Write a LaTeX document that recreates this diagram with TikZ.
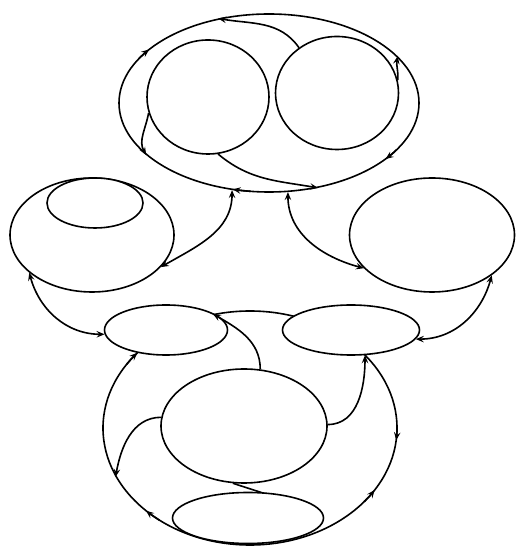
\documentclass[tikz,border=0pt]{standalone}
\usetikzlibrary{arrows.meta,shapes.geometric,calc}
\begin{document}
\begin{tikzpicture}[x=1pt,y=1pt,line width=1.6pt,
  oval/.style={draw,ellipse,inner sep=0pt,fill=white},
  tip/.style={-{Stealth[length=8pt,width=6.5pt,inset=3pt]}},
  twotip/.style={{Stealth[length=8pt,width=6.5pt,inset=3pt]}-{Stealth[length=8pt,width=6.5pt,inset=3pt]}}]
\useasboundingbox (0,0) rectangle (520,548);
% top group
\node[oval,minimum width=300pt,minimum height=178pt] (T) at (269,445) {};
\node[oval,minimum width=122pt,minimum height=114pt] (L1) at (208,451) {};
\node[oval,minimum width=123pt,minimum height=113pt] (R1) at (337,455) {};
\draw[tip] (R1.130) to[out=125,in=-10] (T.121);
\draw[tip] (R1.12) to[out=85,in=-100] (T.20.6);
\draw[tip] (L1.195) to[out=-100,in=120] (T.203.4);
\draw[tip] (L1.-80) to[out=-40,in=170] (T.-60.7);
\draw[tip] ($(T.center)+(150:150 and 89)$) arc[start angle=150,end angle=143,x radius=150,y radius=89];
\draw[tip] ($(T.center)+(263:150 and 89)$) arc[start angle=263,end angle=256,x radius=150,y radius=89];
\draw[tip] ($(T.center)+(328:150 and 89)$) arc[start angle=328,end angle=321,x radius=150,y radius=89];
% side groups
\node[oval,minimum width=164pt,minimum height=114pt] (LE) at (92,313) {};
\node[oval,minimum width=96pt,minimum height=50pt] (LS) at (95,345) {};
\node[oval,minimum width=165pt,minimum height=114pt] (RE) at (432,313) {};
% bottom group
\node[oval,fill=none,minimum width=294pt,minimum height=234pt] (E) at (250,120) {};
\node[oval,minimum width=123pt,minimum height=50pt] (ML) at (166,218) {};
\node[oval,minimum width=137pt,minimum height=50pt] (MR) at (351,218) {};
\node[oval,minimum width=166pt,minimum height=114pt] (C) at (244,122) {};
\coordinate (Bc) at (300,43);
\draw (C.259) -- (Bc);
\node[oval,minimum width=151pt,minimum height=51pt] (B) at (248,30) {};
\draw[tip] (C.74) to[out=90,in=-30] (E.108);
\draw[tip] (C.174) to[out=180,in=80] (E.200);
\draw[tip] (C.1) to[out=0,in=-90] (MR.-61);
\draw[tip] ($(E.center)+(147:147 and 117)$) arc[start angle=147,end angle=140,x radius=147,y radius=117];
\draw[tip] ($(E.center)+(232:147 and 117)$) arc[start angle=232,end angle=225,x radius=147,y radius=117];
\draw[tip] ($(E.center)+(321:147 and 117)$) arc[start angle=321,end angle=328,x radius=147,y radius=117];
\draw[tip] ($(E.center)+(361:147 and 117)$) arc[start angle=361,end angle=354,x radius=147,y radius=117];
% connectors between groups
\draw[twotip] (LE.-25) to[out=30,in=-90] (T.247);
\draw[twotip] (LE.211) to[out=-75,in=180] (ML.184);
\draw[twotip] (T.-78) to[out=-90,in=165] (RE.206);
\draw[twotip] (RE.-34.5) to[out=-105,in=0] (MR.-8.5);
\end{tikzpicture}
\end{document}
